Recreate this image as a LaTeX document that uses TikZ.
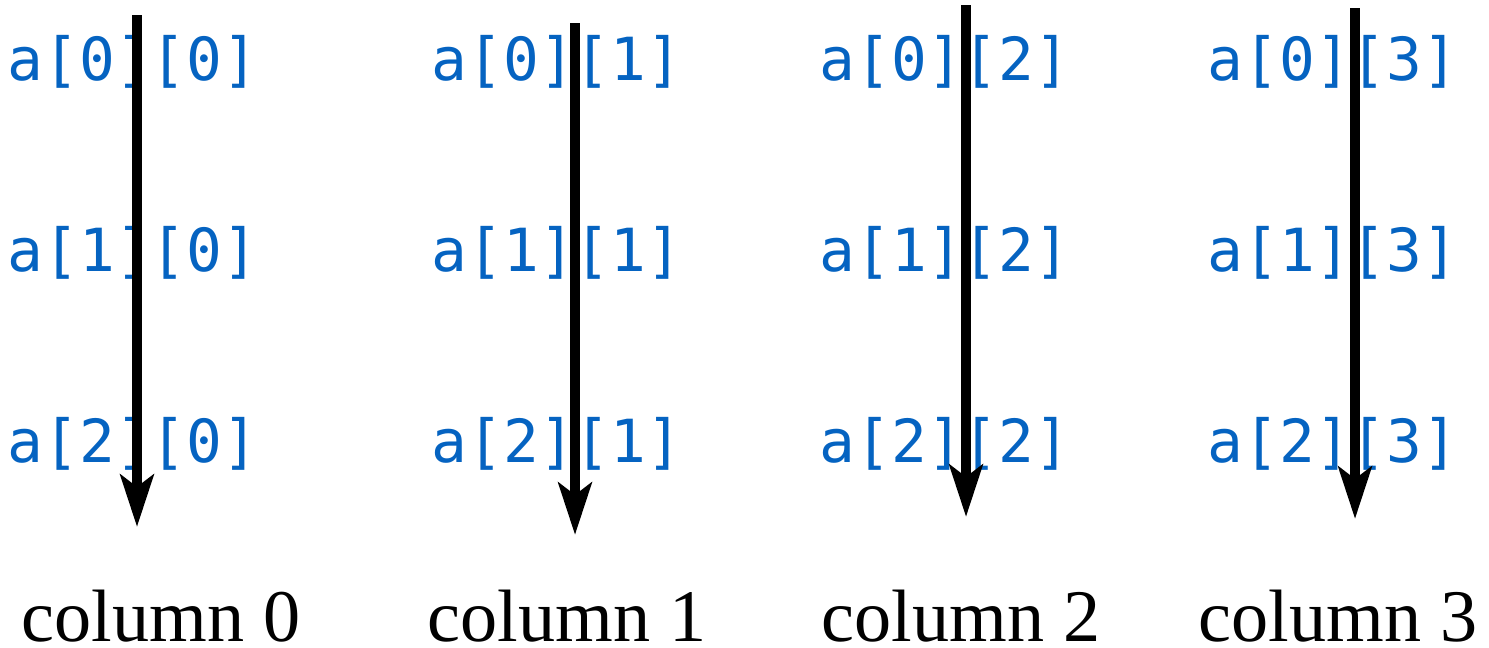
\documentclass[tikz,border=0pt]{standalone}
\usepackage{fontspec}
\setmainfont{Liberation Serif}
\newfontfamily\codefont{DejaVu Sans Mono}
\usetikzlibrary{arrows.meta}
\definecolor{codeblue}{HTML}{0563C1}

\begin{document}
\begin{tikzpicture}[x=0.01cm,y=-0.01cm,
  cell/.style={inner sep=0,anchor=base,text=codeblue,font=\codefont\fontsize{16.9}{18}\selectfont},
  collabel/.style={inner sep=0,anchor=base,text depth=0pt,font=\fontsize{21.1}{24}\selectfont},
  colarrow/.style={line width=0.1cm,-{Stealth[length=0.52cm,width=0.33cm,inset=0.12cm]}}]
  \useasboundingbox (0,0) rectangle (1489,647);
  % one pass per column: cells, label, arrow
  \foreach \j/\xt/\xl/\xa/\yt/\yb in {0/133/161/137/15/527, 1/557/567/575/23/535, 2/945/961/966/5/517, 3/1333/1338/1355/8/519} {
    \foreach \i/\yy in {0/80,1/271,2/462}
      \node[cell] (a\i\j) at (\xt,\yy) {a[\i][\j]};
    \node[collabel] (col\j) at (\xl,641) {column \j};
    \coordinate (top\j) at (\xa,\yt);
    \coordinate (end\j) at (\xa,\yb);
    \draw[colarrow] (top\j) -- (end\j);
  }
\end{tikzpicture}
\end{document}
